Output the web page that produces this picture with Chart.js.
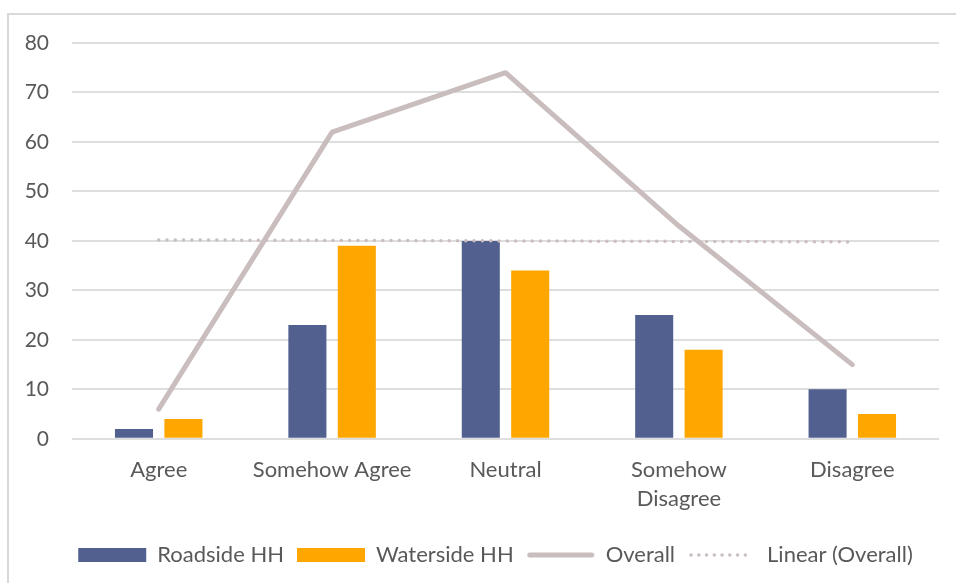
<!DOCTYPE html>
<html>
<head>
<meta charset="utf-8">
<script src="https://cdn.jsdelivr.net/npm/chart.js@4/dist/chart.umd.min.js"></script>
<style>
  html, body { margin: 0; padding: 0; background: #fff; }
  #wrap { position: relative; width: 956px; height: 583px; overflow: hidden; }
  #frame { position: absolute; left: 7px; top: 13px; width: 1000px; height: 700px;
           border-left: 2px solid #D9D9D9; border-top: 2px solid #D9D9D9; }
  canvas#c { position: absolute; left: 0; top: 0; }
</style>
</head>
<body>
<div id="wrap">
  <div id="frame"></div>
  <canvas id="c" width="956" height="583"></canvas>
</div>
<script>
// Survey responses by household location
const categories = ['Agree', 'Somehow Agree', 'Neutral', ['Somehow', 'Disagree'], 'Disagree'];
const roadside = [2, 23, 40, 25, 10];
const waterside = [4, 39, 34, 18, 5];
const overall = [6, 62, 74, 43, 15];
const linearOverall = [40.2, 40.1, 40.0, 39.9, 39.8];
const yTicks = [0, 10, 20, 30, 40, 50, 60, 70, 80];

const FONT = 'Lato, "Liberation Sans", sans-serif';
const TEXT = '#595959';
const LEGEND_W = 68;

// Small legend swatches for the two line series (solid and dotted)
function lineSwatch(color, width, dash) {
  const cv = document.createElement('canvas');
  cv.width = LEGEND_W; cv.height = 10;
  const g = cv.getContext('2d');
  g.strokeStyle = color;
  g.lineWidth = width;
  g.lineCap = 'round';
  g.setLineDash(dash);
  g.beginPath();
  g.moveTo(3, 5);
  g.lineTo(LEGEND_W - 3, 5);
  g.stroke();
  return cv;
}

// Nudge the legend row a little to the right of the canvas centre
const legendShift = {
  id: 'legendShift',
  afterLayout(chart) {
    if (chart.legend) { chart.legend.left += 26; chart.legend.right += 26; }
  }
};

new Chart(document.getElementById('c'), {
  type: 'bar',
  data: {
    labels: categories,
    datasets: [
      { label: 'Roadside HH', data: roadside, backgroundColor: '#51608F', order: 2,
        pointStyle: 'rect', categoryPercentage: 0.57, barPercentage: 0.77 },
      { label: 'Waterside HH', data: waterside, backgroundColor: '#FFA600', order: 2,
        pointStyle: 'rect', categoryPercentage: 0.57, barPercentage: 0.77 },
      { type: 'line', label: 'Overall', data: overall, borderColor: '#C9BDBD',
        backgroundColor: '#C9BDBD', borderWidth: 5, pointRadius: 0, borderCapStyle: 'round',
        borderJoinStyle: 'round', order: 1, tension: 0,
        legendIcon: lineSwatch('#C9BDBD', 5, []) },
      { type: 'line', label: 'Linear (Overall)', data: linearOverall, borderColor: '#CABEBE',
        backgroundColor: '#CABEBE', borderWidth: 3.5, borderDash: [0, 8.3], borderCapStyle: 'round',
        pointRadius: 0, order: 1,
        legendIcon: lineSwatch('#CABEBE', 3.5, [0, 7.75]) }
    ]
  },
  plugins: [legendShift],
  options: {
    responsive: false,
    animation: false,
    devicePixelRatio: 1,
    layout: { padding: { top: 43, right: 17, left: 0, bottom: 7 } },
    plugins: {
      tooltip: { enabled: false },
      legend: {
        position: 'bottom',
        labels: {
          usePointStyle: true,
          pointStyleWidth: LEGEND_W,
          boxHeight: 14,
          padding: 13,
          color: TEXT,
          font: { family: FONT, size: 22 },
          sort: (a, b) => a.datasetIndex - b.datasetIndex,
          generateLabels(chart) {
            const items = Chart.defaults.plugins.legend.labels.generateLabels(chart);
            items.forEach(it => {
              const ds = chart.data.datasets[it.datasetIndex];
              if (ds.legendIcon) it.pointStyle = ds.legendIcon;
            });
            return items;
          }
        }
      }
    },
    scales: {
      x: {
        grid: { display: false },
        border: { display: false },
        afterFit: (s) => { s.height += 9; },
        ticks: { color: TEXT, font: { family: FONT, size: 22, lineHeight: 1.3 },
                 padding: 9, maxRotation: 0, autoSkip: false }
      },
      y: {
        min: 0, max: 80,
        afterFit: (s) => { s.width = 72; },
        afterBuildTicks: (s) => { s.ticks = yTicks.map(v => ({ value: v })); },
        grid: { color: '#DEDEDE', lineWidth: 2, drawTicks: false },
        border: { display: false },
        ticks: { color: TEXT, font: { family: FONT, size: 21 }, padding: 23 }
      }
    }
  }
});
</script>
</body>
</html>
